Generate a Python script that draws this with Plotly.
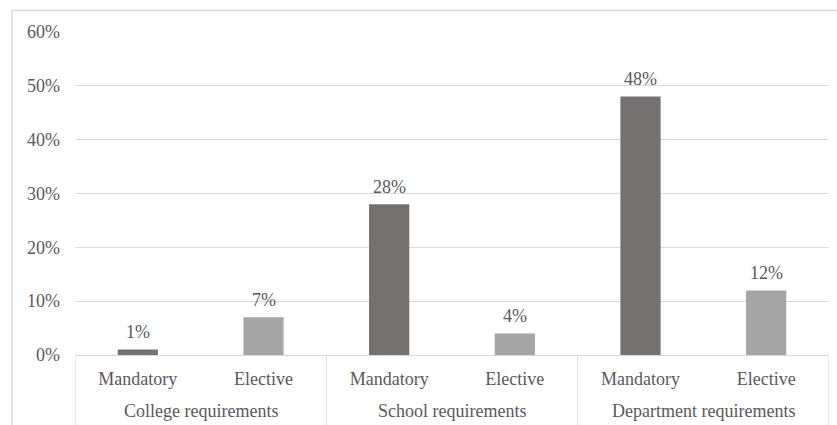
import plotly.graph_objects as go

groups = ["College requirements", "College requirements",
          "School requirements", "School requirements",
          "Department requirements", "Department requirements"]
types = ["Mandatory", "Elective", "Mandatory", "Elective", "Mandatory", "Elective"]
values = [0.01, 0.07, 0.28, 0.04, 0.48, 0.12]
labels = ["1%", "7%", "28%", "4%", "48%", "12%"]
colors = ["#767171", "#A5A5A5", "#767171", "#A5A5A5", "#767171", "#A5A5A5"]
y_ticks = [0, 0.1, 0.2, 0.3, 0.4, 0.5, 0.6]
y_ticktext = ["0%", "10%", "20%", "30%", "40%", "50%", "60%"]

FONT = "Liberation Serif"
TXT = "#595959"
GRID = "#D9D9D9"

xpos = list(range(len(types)))

fig = go.Figure(go.Bar(
    x=xpos, y=values,
    marker=dict(color=colors, line=dict(width=0)),
    width=0.32,
    cliponaxis=False,
))

annotations = []
# data labels
for xi, v, lab in zip(xpos, values, labels):
    annotations.append(dict(
        x=xi, y=v, xref="x", yref="y", text=lab, showarrow=False,
        yanchor="middle", yshift=17.5,
        font=dict(family=FONT, size=18, color=TXT),
    ))

# group labels and dividers
shapes = []
group_names = []
group_spans = []
for i, g in enumerate(groups):
    if not group_names or group_names[-1] != g:
        group_names.append(g)
        group_spans.append([i, i])
    else:
        group_spans[-1][1] = i
bottom = -(440 - 355) / 323
for g, (a, b) in zip(group_names, group_spans):
    annotations.append(dict(
        x=(a + b) / 2, y=-(411 - 355) / 323, xref="x", yref="paper",
        text=g, showarrow=False, yanchor="middle",
        font=dict(family=FONT, size=18, color=TXT),
    ))
divs = [a - 0.5 for a, b in group_spans] + [group_spans[-1][1] + 0.5]
for d in divs:
    shapes.append(dict(type="line", xref="x", yref="paper",
                       x0=d, x1=d, y0=0, y1=bottom,
                       line=dict(color=GRID, width=1)))

# outer chart border
shapes.append(dict(
    type="rect", xref="paper", yref="paper",
    x0=(12 - 75) / 754, x1=1.05,
    y0=-0.5, y1=1 + (32 - 10.5) / 323,
    line=dict(color=GRID, width=1.5), fillcolor="rgba(0,0,0,0)",
    layer="below",
))

fig.update_layout(
    width=837, height=425,
    margin=dict(l=75, r=8, t=32, b=70),
    paper_bgcolor="white", plot_bgcolor="white",
    showlegend=False,
    font=dict(family=FONT, size=18, color=TXT),
    xaxis=dict(
        range=[-0.5, len(types) - 0.5],
        tickvals=xpos, ticktext=types,
        showgrid=False, zeroline=False,
        showline=True, linecolor=GRID, linewidth=1,
        ticks="", ticklabelstandoff=7,
        tickfont=dict(family=FONT, size=18, color=TXT),
        automargin=False, fixedrange=True,
    ),
    yaxis=dict(
        range=[0, 0.6],
        tickvals=y_ticks, ticktext=y_ticktext,
        showgrid=True, gridcolor=GRID, gridwidth=1,
        zeroline=False, showline=False, ticks="",
        ticklabelstandoff=14,
        tickfont=dict(family=FONT, size=18, color=TXT),
        automargin=False,
    ),
    annotations=annotations,
    shapes=shapes,
)

fig.write_html("out.html")
